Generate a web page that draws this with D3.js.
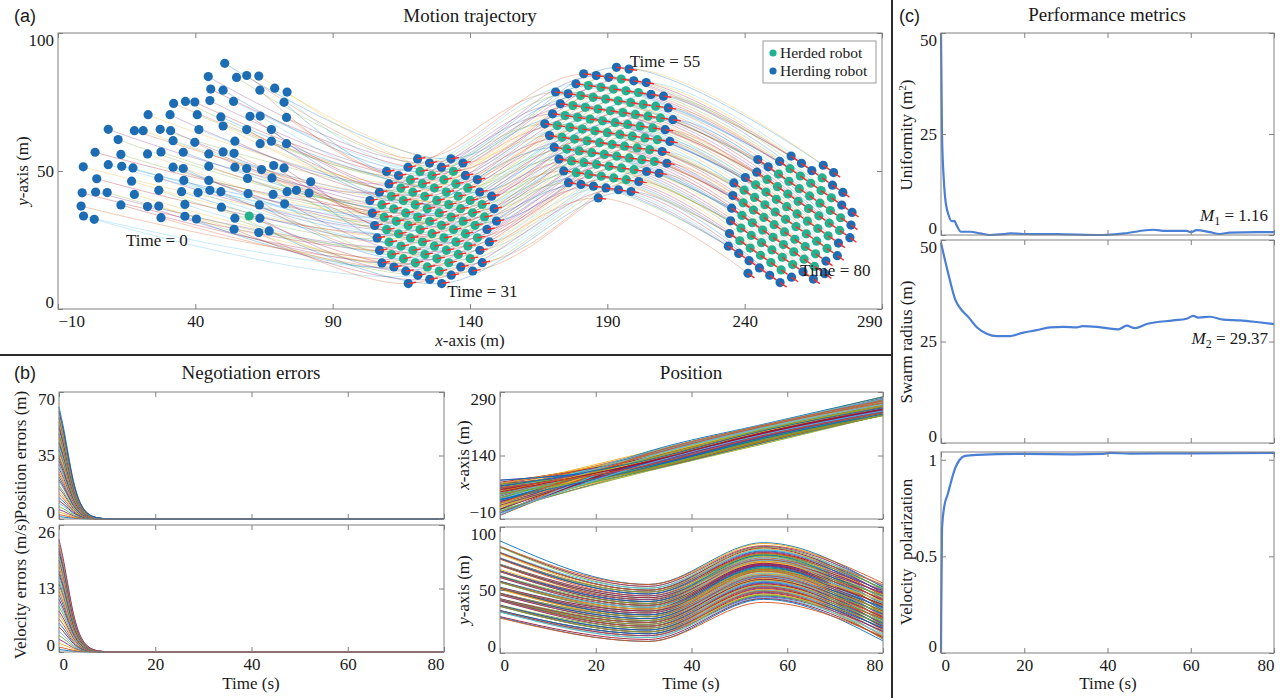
<!DOCTYPE html>
<html>
<head>
<meta charset="utf-8">
<script src="https://cdn.jsdelivr.net/npm/d3@7"></script>
<style>
body { margin: 0; background: #fff; }
svg text { font-family: "Liberation Serif", "Times New Roman", serif; fill: #1a1a1a; }
.tag { font-family: "Liberation Sans", Arial, sans-serif; font-size: 18px; }
.frame { fill: none; stroke: #808080; stroke-width: 1; }
</style>
</head>
<body>
<svg id="fig" width="1286" height="698"></svg>
<script>

// ---- (a) robots at Time = 0, [x, y] in m ----
var herdingStart = [
  [50.7,89.0],
  [44.7,84.2],[55.0,83.9],[58.7,84.6],[63.1,84.4],
  [45.6,79.7],[50.1,79.3],[63.5,79.3],[68.9,80.0],[73.4,78.6],
  [32.1,74.5],[36.4,75.2],[39.8,75.0],[45.3,75.5],[53.9,75.2],[72.3,74.9],
  [22.8,70.4],[30.8,70.4],[40.7,70.4],[49.3,69.6],[59.9,69.8],[63.6,69.9],[73.2,69.4],
  [8.3,65.1],[17.8,64.6],[21.0,64.6],[27.2,65.1],[31.0,64.6],[41.3,65.0],[50.1,66.3],[58.7,65.0],[67.7,65.0],
  [11.9,61.4],[31.9,61.0],[39.8,60.4],[54.4,60.8],[63.6,59.9],[67.7,60.8],[73.2,59.9],
  [3.5,56.8],[12.9,56.0],[22.6,56.2],[27.5,56.9],[35.6,56.8],[44.9,56.2],[50.1,56.9],[54.1,56.4],
  [-0.8,51.5],[8.3,52.3],[13.2,51.7],[17.3,51.1],[31.9,51.4],[35.6,50.9],[44.9,51.7],[54.4,51.4],[58.7,50.9],[64.1,50.5],[68.5,52.0],[72.3,51.1],
  [4.1,47.2],[16.8,46.3],[26.7,47.5],[35.8,46.6],[44.9,46.6],[59.0,47.3],[67.9,47.5],[82.0,46.1],
  [-1.2,42.1],[3.7,42.4],[7.9,42.2],[17.8,41.5],[26.7,43.0],[35.0,42.5],[41.0,42.2],[45.3,43.0],[49.3,42.5],[59.2,41.8],[68.3,41.5],[73.4,42.5],[76.8,43.0],[81.4,42.0],
  [-1.6,37.3],[12.9,37.7],[22.6,37.1],[26.7,37.3],[36.2,37.9],[49.5,36.9],[63.3,37.7],[72.5,38.1],
  [-0.7,33.7],[3.2,32.5],[27.5,33.1],[36.2,33.6],[40.4,32.6],[54.4,32.9],[63.5,32.9],
  [54.1,28.9],[63.1,27.7],[66.9,28.3]
];
var herdedStart = [[59.6,33.7]];

// ---- (a) lattice formations ----
var formTimes = [31, 55, 80];
var formCenters = [[125.3,31.8],[190.0,63.9],[254.9,32.5]];
var formLatticeDeg = [-19, -8, -35];
var formHeadingDeg = [10, -8, -35];
var latticeStep = 4.6;
var timeNotes = [
  {label: "Time = 0", x: 26, y: 24.9},
  {label: "Time = 31", x: 144.5, y: 6.5},
  {label: "Time = 55", x: 211, y: 90},
  {label: "Time = 80", x: 273, y: 14}
];

// ---- (b) negotiation errors ----
var errT = [0, 1, 2, 3, 4, 5, 6, 7, 8, 9, 10, 12, 80];
var errShape = [1, 0.8, 0.56, 0.34, 0.19, 0.1, 0.05, 0.024, 0.011, 0.005, 0.002, 0, 0];
var posErr0 = [61.8,59.5,58.4,56.1,55.7,54.0,53.2,51.9,50.3,49.6,47.4,46.8,45.1,44.3,42.6,41.8,40.2,
  38.7,37.9,36.0,34.8,33.5,31.9,30.4,29.6,27.8,26.1,24.9,23.2,21.7,20.5,18.3,16.9,15.2,13.6,
  11.8,10.1,8.7,6.9,5.2,3.8,2.4,1.3];
var velErr0 = [23.1,22.5,21.9,21.2,20.6,20.1,19.4,18.8,18.1,17.5,16.6,16.0,15.3,14.5,13.9,13.1,
  12.4,11.6,10.8,10.1,9.3,8.4,7.7,6.8,5.9,5.1,4.2,3.4,2.6,1.8,1.0,0.5];

// ---- (c) performance metrics ----
var uniT = [0, 0.05, 0.24, 0.6, 1, 1.8, 2.6, 3.2, 3.7, 4.8, 7, 9.4, 11.8, 15, 16.6, 19.8, 28, 39, 44, 51, 54, 59, 60, 61.4, 64.6, 67, 69.4, 76, 80];
var uniV = [50, 45, 25, 15, 9.2, 5, 3.4, 3.5, 2.5, 0.8, 0.8, 0.4, 0, 0.2, 0.4, 0.25, 0.2, 0, 0.4, 1.3, 1, 1, 0.7, 1.2, 0.7, 0.25, 0.6, 0.7, 0.7];
var radT = [0, 1.8, 3.4, 4.6, 6.6, 8.6, 11, 13.4, 16.2, 19.8, 23, 26.2, 29.4, 32.6, 34, 37.4, 39.8, 42.6, 44.6, 46.6, 49.4, 55.8, 59, 60.6, 61.8, 64.6, 67.8, 71.8, 75.8, 80];
var radV = [49.3, 41.5, 35.4, 33.2, 31, 28.5, 26.9, 26.3, 26.3, 27.2, 27.8, 28.5, 28.6, 28.5, 28.8, 28.6, 28.3, 28, 28.9, 28.3, 29.3, 30.2, 30.6, 31.3, 30.9, 31.1, 30.4, 30.2, 29.8, 29.3];
var polT = [0, 0.05, 0.24, 0.8, 1.6, 2.6, 3.4, 4.5, 5.8, 8.6, 19.8, 31.8, 39, 40.6, 45.4, 60, 80];
var polV = [0, 0.2, 0.64, 0.76, 0.82, 0.9, 0.956, 1.0, 1.02, 1.025, 1.03, 1.028, 1.03, 1.035, 1.032, 1.033, 1.035];

var matlab = ["#0072BD","#D95319","#EDB120","#7E2F8E","#77AC30","#4DBEEE","#A2142F"];
var blue = "#1c6db4", green = "#22b28f", red = "#ff2a2a";

var svg = d3.select("#fig");

// axes in MATLAB style: box on, ticks inside, end labels kept inside the box
function axes(g, x, y, o) {
  var x0 = x.range()[0], x1 = x.range()[1], y0 = y.range()[1], y1 = y.range()[0];
  var fs = o.fs || 17;
  g.append("rect").attr("class", "frame")
    .attr("x", x0).attr("y", y0).attr("width", x1 - x0).attr("height", y1 - y0);
  function style(a) {
    a.select(".domain").remove();
    a.attr("font-size", null).attr("font-family", null);
    a.selectAll("line").attr("stroke", "#808080");
    a.selectAll("text").attr("fill", "#1a1a1a").style("font-size", fs + "px");
    return a;
  }
  var bot = style(g.append("g").attr("transform", "translate(0," + y1 + ")")
    .call(d3.axisBottom(x).tickValues(o.xt).tickSizeInner(-5).tickSizeOuter(0).tickPadding(6)
      .tickFormat(o.xlab === false ? "" : (o.xf || d3.format("")))));
  style(g.append("g").attr("transform", "translate(0," + y0 + ")")
    .call(d3.axisTop(x).tickValues(o.xt).tickSizeInner(-5).tickSizeOuter(0).tickFormat("")));
  var lef = style(g.append("g").attr("transform", "translate(" + x0 + ",0)")
    .call(d3.axisLeft(y).tickValues(o.yt).tickSizeInner(-5).tickSizeOuter(0).tickPadding(4)
      .tickFormat(o.yf || d3.format(""))));
  style(g.append("g").attr("transform", "translate(" + x1 + ",0)")
    .call(d3.axisRight(y).tickValues(o.yt).tickSizeInner(-5).tickSizeOuter(0).tickFormat("")));
  bot.selectAll("text").each(function(d) {
    var w = this.getComputedTextLength(), p = x(d);
    var c = Math.max(x0 + w / 2, Math.min(x1 - w / 2, p));
    d3.select(this).attr("x", c - p);
  });
  lef.selectAll("text").each(function(d) {
    var h = fs * 0.66, p = y(d);
    var c = Math.max(y0 + h / 2 + 1, Math.min(y1 - h / 2 - 1, p));
    d3.select(this).attr("y", c - p);
  });
}

function ylabel(g, cx, cy, parts, fs) {
  var t = g.append("text").attr("transform", "translate(" + cx + "," + cy + ") rotate(-90)")
    .attr("text-anchor", "middle").attr("dy", "0.35em").style("font-size", (fs || 17) + "px")
    .style("white-space", "pre");
  parts.forEach(function(p) {
    var s = t.append("tspan").text(p.t);
    if (p.i) s.style("font-style", "italic");
    if (p.sup) s.attr("dy", -6).style("font-size", "11px");
    if (p.back) s.attr("dy", 6);
  });
  return t;
}
function label(g, x, y, txt, fs, anchor) {
  return g.append("text").attr("x", x).attr("y", y).attr("text-anchor", anchor || "middle")
    .style("font-size", (fs || 17) + "px").text(txt);
}

// ---------------- panel separators ----------------
svg.append("line").attr("x1", 892).attr("x2", 892).attr("y1", 0).attr("y2", 698)
  .attr("stroke", "#2b2b2b").attr("stroke-width", 2);
svg.append("line").attr("x1", 0).attr("x2", 892).attr("y1", 355).attr("y2", 355)
  .attr("stroke", "#2b2b2b").attr("stroke-width", 2);

// ---------------- (a) Motion trajectory ----------------
var ga = svg.append("g");
var ax = d3.scaleLinear().domain([-10, 290]).range([58, 882]);
var ay = d3.scaleLinear().domain([0, 100]).range([309, 33]);

var starts = herdingStart.map(function(p) { return {p: p, herded: false}; })
  .concat(herdedStart.map(function(p) { return {p: p, herded: true}; }));
var N = starts.length;

// hexagonal lattice slots in the body frame, nearest N to the centre
var slots = [];
for (var i = -12; i <= 12; i++) for (var j = -12; j <= 12; j++) {
  var bx = latticeStep * (i + j / 2), by = latticeStep * j * Math.sqrt(3) / 2;
  slots.push({i: i, j: j, bx: bx, by: by, d: Math.hypot(bx - 0.4, by - 0.25)});
}
slots.sort(function(a, b) { return a.d - b.d; });
slots = slots.slice(0, N);
var keySet = new Set(slots.map(function(s) { return s.i + "," + s.j; }));
var nb = [[1,0],[-1,0],[0,1],[0,-1],[1,-1],[-1,1]];
slots.forEach(function(s) {
  var c = nb.filter(function(n) { return keySet.has((s.i + n[0]) + "," + (s.j + n[1])); }).length;
  s.edge = c < 6;
  s.pos = formCenters.map(function(cen, f) {
    var t = formLatticeDeg[f] * Math.PI / 180;
    return [cen[0] + s.bx * Math.cos(t) - s.by * Math.sin(t), cen[1] + s.bx * Math.sin(t) + s.by * Math.cos(t)];
  });
});

// pair start positions with formation slots by height
var so = d3.range(N).sort(function(a, b) { return starts[b].p[1] - starts[a].p[1]; });
var fo = d3.range(N).sort(function(a, b) { return slots[b].pos[0][1] - slots[a].pos[0][1]; });
var robots = d3.range(N).map(function(r) {
  var s = slots[fo[r]];
  return {start: starts[so[r]].p, slot: s, keys: [starts[so[r]].p].concat(s.pos), color: matlab[r % 7]};
});
var keyT = [0].concat(formTimes);

var traj = d3.line().x(function(d) { return ax(d[0]); }).y(function(d) { return ay(d[1]); })
  .curve(d3.curveCatmullRom.alpha(0.5));
ga.append("g").selectAll("path").data(robots).join("path")
  .attr("d", function(d) { return traj(d.keys); })
  .attr("fill", "none").attr("stroke", function(d) { return d.color; })
  .attr("stroke-opacity", 0.35).attr("stroke-width", 0.9);

ga.append("g").selectAll("circle").data(starts).join("circle")
  .attr("cx", function(d) { return ax(d.p[0]); }).attr("cy", function(d) { return ay(d.p[1]); })
  .attr("r", 4.6).attr("fill", function(d) { return d.herded ? green : blue; });

formTimes.forEach(function(t, f) {
  var g = ga.append("g");
  var h = formHeadingDeg[f] * Math.PI / 180;
  g.selectAll("circle").data(slots).join("circle")
    .attr("cx", function(d) { return ax(d.pos[f][0]); }).attr("cy", function(d) { return ay(d.pos[f][1]); })
    .attr("r", 4.6).attr("fill", function(d) { return d.edge ? blue : green; });
  g.selectAll("line").data(slots).join("line")
    .attr("x1", function(d) { return ax(d.pos[f][0]); }).attr("y1", function(d) { return ay(d.pos[f][1]); })
    .attr("x2", function(d) { return ax(d.pos[f][0]) + 8 * Math.cos(h); })
    .attr("y2", function(d) { return ay(d.pos[f][1]) - 8 * Math.sin(h); })
    .attr("stroke", red).attr("stroke-width", 1.4);
});

axes(ga, ax, ay, {xt: [-10, 40, 90, 140, 190, 240, 290], yt: [0, 50, 100], fs: 17});

timeNotes.forEach(function(n) {
  label(ga, ax(n.x), ay(n.y), n.label, 17, "middle").attr("dy", "0.35em");
});

// legend
var lg = ga.append("g").attr("transform", "translate(763,41)");
lg.append("rect").attr("width", 113).attr("height", 42).attr("fill", "#fff").attr("stroke", "#9a9a9a");
[["Herded robot", green], ["Herding robot", blue]].forEach(function(e, k) {
  lg.append("circle").attr("cx", 10).attr("cy", 12 + k * 18).attr("r", 3.6).attr("fill", e[1]);
  lg.append("text").attr("x", 17).attr("y", 17 + k * 18).style("font-size", "15.5px").text(e[0]);
});

label(ga, 470, 22, "Motion trajectory", 19);
ga.append("text").attr("class", "tag").attr("x", 14).attr("y", 22).text("(a)");
ylabel(ga, 22, 171, [{t: "y", i: true}, {t: "-axis (m)"}]);
var xl = label(ga, 470, 346, "", 17);
xl.append("tspan").style("font-style", "italic").text("x");
xl.append("tspan").text("-axis (m)");

// ---------------- (b) Negotiation errors ----------------
var gb = svg.append("g");
var bx1 = d3.scaleLinear().domain([0, 80]).range([59, 444]);
var bpe = d3.scaleLinear().domain([0, 70]).range([519, 392]);
var bve = d3.scaleLinear().domain([0, 26]).range([652, 525]);
var errLine = function(y, amp) {
  return d3.line().x(function(d) { return bx1(d); }).y(function(d, k) { return y(amp * errShape[k]); })
    .curve(d3.curveMonotoneX)(errT);
};
[[posErr0, bpe], [velErr0, bve]].forEach(function(pair) {
  gb.append("g").selectAll("path").data(pair[0].slice().reverse()).join("path")
    .attr("d", function(a) { return errLine(pair[1], a); })
    .attr("fill", "none").attr("stroke-width", 0.9)
    .attr("stroke", function(a, k) { return matlab[k % 7]; });
});
axes(gb, bx1, bpe, {xt: [0, 20, 40, 60, 80], yt: [0, 35, 70], xlab: false, fs: 17});
axes(gb, bx1, bve, {xt: [0, 20, 40, 60, 80], yt: [0, 13, 26], fs: 17});
label(gb, 251, 379, "Negotiation errors", 19);
gb.append("text").attr("class", "tag").attr("x", 14).attr("y", 379).text("(b)");
ylabel(gb, 20, 455, [{t: "Position errors (m)"}]);
ylabel(gb, 20, 589, [{t: "Velocity errors (m/s)"}]);
label(gb, 251, 689, "Time (s)", 17);

// ---------------- (b) Position ----------------
var bx2 = d3.scaleLinear().domain([0, 80]).range([500, 883]);
var bpx = d3.scaleLinear().domain([-10, 290]).range([519, 392]);
var bpy = d3.scaleLinear().domain([0, 100]).range([653, 527]);
[[0, bpx], [1, bpy]].forEach(function(pair) {
  var ln = d3.line().x(function(d, k) { return bx2(keyT[k]); }).y(function(d) { return pair[1](d[pair[0]]); })
    .curve(d3.curveMonotoneX);
  gb.append("g").selectAll("path").data(robots).join("path")
    .attr("d", function(r) { return ln(r.keys); })
    .attr("fill", "none").attr("stroke-width", 0.9).attr("stroke", function(r) { return r.color; });
});
axes(gb, bx2, bpx, {xt: [0, 20, 40, 60, 80], yt: [-10, 140, 290], xlab: false, fs: 17});
axes(gb, bx2, bpy, {xt: [0, 20, 40, 60, 80], yt: [0, 50, 100], fs: 17});
label(gb, 691, 379, "Position", 19);
ylabel(gb, 463, 455, [{t: "x", i: true}, {t: "-axis (m)"}]);
ylabel(gb, 463, 590, [{t: "y", i: true}, {t: "-axis (m)"}]);
label(gb, 691, 689, "Time (s)", 17);

// ---------------- (c) Performance metrics ----------------
var gc = svg.append("g");
var cx = d3.scaleLinear().domain([0, 80]).range([941, 1274]);
var cu = d3.scaleLinear().domain([0, 50]).range([235, 33]);
var cr = d3.scaleLinear().domain([0, 50]).range([443, 240]);
var cp = d3.scaleLinear().domain([0, 1.04]).range([653, 452]);
[[uniT, uniV, cu], [radT, radV, cr], [polT, polV, cp]].forEach(function(s) {
  var ln = d3.line().x(function(d) { return cx(d); }).y(function(d, k) { return s[2](s[1][k]); })
    .curve(d3.curveMonotoneX);
  gc.append("path").attr("d", ln(s[0])).attr("fill", "none")
    .attr("stroke", "#4a7fd6").attr("stroke-width", 2.2);
});
axes(gc, cx, cu, {xt: [0, 20, 40, 60, 80], yt: [0, 25, 50], xlab: false, fs: 17});
axes(gc, cx, cr, {xt: [0, 20, 40, 60, 80], yt: [0, 25, 50], xlab: false, fs: 17});
axes(gc, cx, cp, {xt: [0, 20, 40, 60, 80], yt: [0, 0.5, 1], fs: 17, yf: d3.format("")});
label(gc, 1107, 21, "Performance metrics", 19);
gc.append("text").attr("class", "tag").attr("x", 899).attr("y", 22).text("(c)");
ylabel(gc, 906, 135, [{t: "Uniformity (m"}, {t: "2", sup: true}, {t: ")", back: true}]);
ylabel(gc, 906, 342, [{t: "Swarm radius (m)"}]);
ylabel(gc, 906, 552, [{t: "Velocity  polarization"}]);
label(gc, 1108, 689, "Time (s)", 17);

function metricNote(x, y, sub, val) {
  var t = label(gc, x, y, "", 17, "end");
  t.append("tspan").style("font-style", "italic").text("M");
  t.append("tspan").attr("dy", 4).style("font-size", "12px").text(sub);
  t.append("tspan").attr("dy", -4).text(" = " + val);
}
metricNote(1268, 221, "1", "1.16");
metricNote(1268, 344, "2", "29.37");

</script>
</body>
</html>
